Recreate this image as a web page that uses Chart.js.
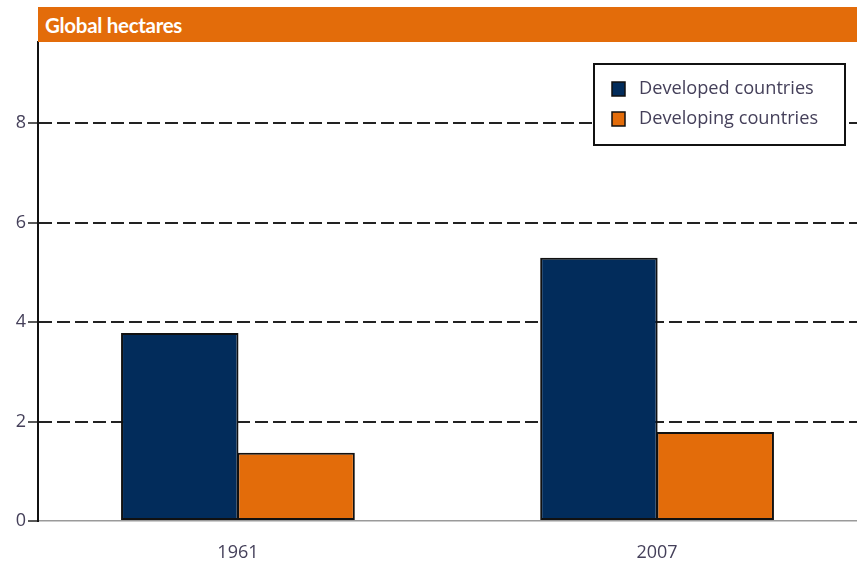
<!DOCTYPE html>
<html>
<head>
<meta charset="utf-8">
<script src="https://cdn.jsdelivr.net/npm/chart.js@4"></script>
<style>
  html, body { margin: 0; padding: 0; background: #fff; overflow: hidden; }
  #wrap { position: relative; width: 857px; height: 562px; }
  #hdr { position: absolute; left: 38px; top: 7px; width: 819px; height: 35px; background: #e36c0a;
         color: #fff; font-family: Lato, "Open Sans", sans-serif; font-weight: bold; font-size: 20.5px;
         line-height: 36px; padding-left: 7px; box-sizing: border-box; letter-spacing: -0.3px; z-index: 2; }
  canvas { position: absolute; left: 0; top: 0; }
</style>
</head>
<body>
<div id="wrap">
  <canvas id="c" width="857" height="562"></canvas>
  <div id="hdr">Global hectares</div>
</div>
<script>
const categories = ['1961', '2007'];
const seriesNames = ['Developed countries', 'Developing countries'];
const developed = [3.78, 5.29];
const developing = [1.37, 1.79];
const yTicks = [0, 2, 4, 6, 8];
const yMax = 9.63;

const NAVY = '#022c5b';
const ORANGE = '#e36c0a';
const LABEL = '#45405a';

const boxedLegend = {
  id: 'boxedLegend',
  afterDraw(chart) {
    const ctx = chart.ctx;
    const x = 594, y = 64, w = 251, h = 81;
    ctx.save();
    ctx.fillStyle = '#fff';
    ctx.fillRect(x, y, w, h);
    ctx.lineWidth = 2;
    ctx.strokeStyle = '#111';
    ctx.strokeRect(x, y, w, h);
    ctx.font = '18.2px "Open Sans", sans-serif';
    ctx.textBaseline = 'middle';
    chart.data.datasets.forEach((ds, i) => {
      const cy = 89 + i * 30;
      ctx.fillStyle = ds.backgroundColor;
      ctx.fillRect(612, cy - 7, 13, 14);
      ctx.lineWidth = 1.5;
      ctx.strokeStyle = '#111';
      ctx.strokeRect(612, cy - 7, 13, 14);
      ctx.fillStyle = LABEL;
      ctx.fillText(ds.label, 639, cy);
    });
    ctx.restore();
  }
};

const toPoints = arr => arr.map((v, i) => ({ x: i, y: v }));

new Chart(document.getElementById('c'), {
  type: 'bar',
  data: {
    datasets: [
      { label: seriesNames[0], data: toPoints(developed), backgroundColor: NAVY, borderColor: '#111', borderWidth: 2, borderSkipped: false },
      { label: seriesNames[1], data: toPoints(developing), backgroundColor: ORANGE, borderColor: '#111', borderWidth: 2, borderSkipped: false }
    ]
  },
  options: {
    responsive: false,
    animation: false,
    layout: { padding: { top: 42, right: 0, left: 0, bottom: 0 } },
    plugins: { legend: { display: false }, tooltip: { enabled: false }, title: { display: false } },
    datasets: { bar: { categoryPercentage: 0.555, barPercentage: 1.01 } },
    scales: {
      x: {
        type: 'linear',
        offset: false,
        bounds: 'data',
        min: -0.477,
        max: 1.477,
        afterBuildTicks(scale) { scale.ticks = categories.map((c, i) => ({ value: i })); },
        grid: { display: false, drawTicks: false, offset: false },
        border: { display: true, color: '#9a9a9a', width: 1.5 },
        ticks: {
          padding: 21, color: LABEL, font: { family: '"Open Sans", sans-serif', size: 18 },
          callback: v => categories[v]
        },
        afterFit(scale) { scale.height = 41; }
      },
      y: {
        min: 0,
        max: yMax,
        afterBuildTicks(scale) { scale.ticks = yTicks.map(v => ({ value: v })); },
        afterFit(scale) { scale.width = 38; },
        grid: {
          color: ctx => (ctx.tick && ctx.tick.value === 0) ? 'rgba(0,0,0,0)' : '#222',
          lineWidth: 2,
          tickColor: '#222',
          tickWidth: 1.5,
          tickLength: 10,
          tickBorderDash: []
        },
        border: { display: true, color: '#111', width: 2, dash: [13, 5] },
        ticks: { padding: 2, color: LABEL, font: { family: '"Open Sans", sans-serif', size: 18 } }
      }
    }
  },
  plugins: [boxedLegend]
});
</script>
</body>
</html>
